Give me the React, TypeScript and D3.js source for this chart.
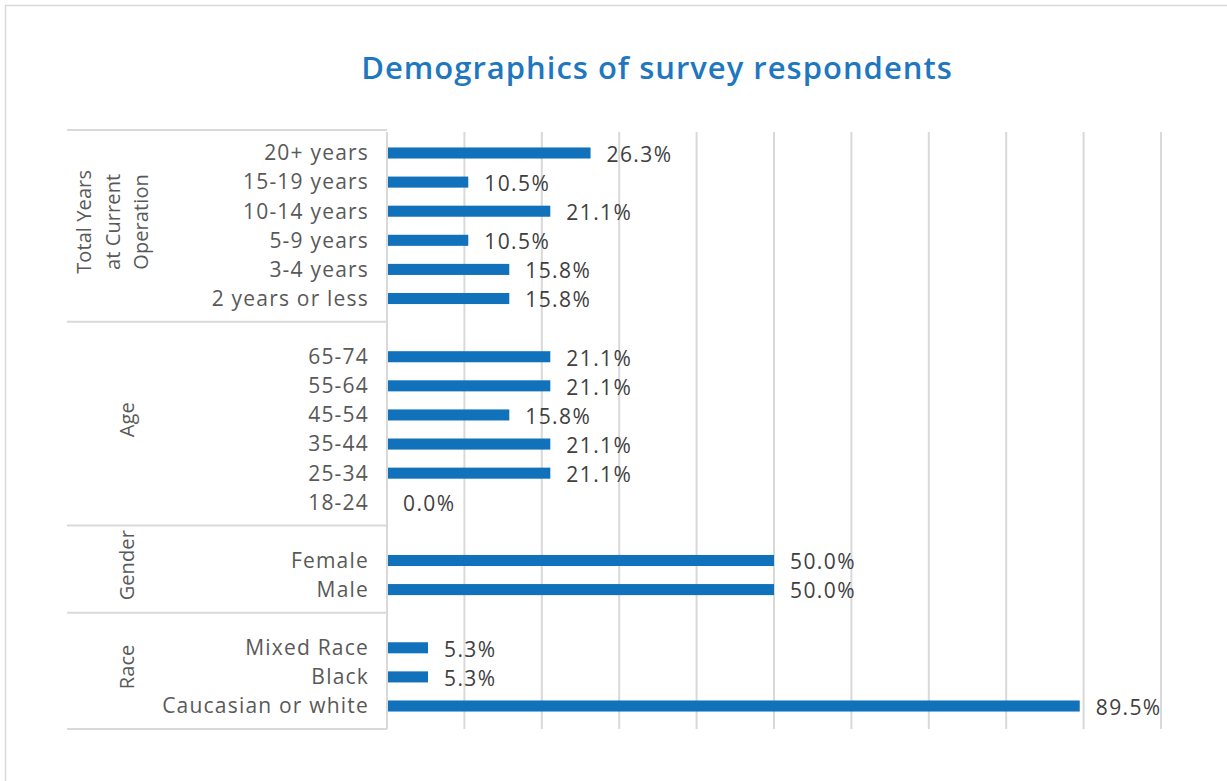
import React from "react";
import { scaleBand, scaleLinear, range } from "d3";

// group titles (rotated) and their rows, top to bottom
const groupNames = [
    ["Total Years", "at Current", "Operation"],
    ["Age"],
    ["Gender"],
    ["Race"],
];

const yearsLabels = ["20+ years", "15-19 years", "10-14 years", "5-9 years", "3-4 years", "2 years or less"];
const yearsValues = [26.3, 10.5, 21.1, 10.5, 15.8, 15.8];

const ageLabels = ["65-74", "55-64", "45-54", "35-44", "25-34", "18-24"];
const ageValues = [21.1, 21.1, 15.8, 21.1, 21.1, 0.0];

const genderLabels = ["Female", "Male"];
const genderValues = [50.0, 50.0];

const raceLabels = ["Mixed Race", "Black", "Caucasian or white"];
const raceValues = [5.3, 5.3, 89.5];

const xTicks = range(0, 101, 10);

const groups = [
    { labels: yearsLabels, values: yearsValues },
    { labels: ageLabels, values: ageValues },
    { labels: genderLabels, values: genderValues },
    { labels: raceLabels, values: raceValues },
];

const W = 1227;
const H = 781;
const margin = { top: 130, left: 387, right: 66, bottom: 52 };
const FONT = "'Open Sans', Lato, sans-serif";

const App: React.FC = () => {
    // domain: every row, with one empty slot between groups
    const domain: string[] = [];
    groups.forEach((g, gi) => {
        if (gi > 0) domain.push("__gap" + gi);
        g.labels.forEach(l => domain.push(l));
    });

    const y = scaleBand<string>()
        .domain(domain)
        .range([margin.top, H - margin.bottom])
        .paddingInner(0.62)
        .paddingOuter(0.6);

    const x = scaleLinear()
        .domain([0, 100])
        .range([margin.left, W - margin.right]);

    const bw = y.bandwidth();
    const step = y.step();
    const mid = (k: string) => (y(k) as number) + bw / 2;

    // separators: top, a bit under the last row of each group, bottom
    const seps = [margin.top];
    groups.forEach((g, gi) => {
        if (gi < groups.length - 1) seps.push(mid(g.labels[g.labels.length - 1]) + step * 0.8);
    });
    seps.push(H - margin.bottom);

    return (
        <svg
            width={W}
            height={H}
            style={{ position: "absolute", left: 0, top: 0, background: "#fff" }}
        >
            {/* outer frame */}
            <line x1={5} x2={W} y1={5.5} y2={5.5} stroke="#d9d9d9" strokeWidth={1.5} />
            <line x1={5.5} x2={5.5} y1={5} y2={H} stroke="#d9d9d9" strokeWidth={1.5} />

            <text
                x={657}
                y={79}
                textAnchor="middle"
                fill="#1f77c0"
                fontFamily={FONT}
                fontWeight={600}
                fontSize={31}
                letterSpacing={1}
            >
                Demographics of survey respondents
            </text>

            {/* vertical gridlines */}
            {xTicks.map(t => (
                <line
                    key={t}
                    x1={x(t)}
                    x2={x(t)}
                    y1={margin.top + 2}
                    y2={H - margin.bottom}
                    stroke="#d9d9d9"
                    strokeWidth={2}
                />
            ))}

            {/* group separators */}
            {seps.map((s, i) => (
                <line
                    key={i}
                    x1={67}
                    x2={x(0)}
                    y1={s}
                    y2={s}
                    stroke="#d9d9d9"
                    strokeWidth={2}
                />
            ))}

            {groups.map((g, gi) => {
                const top = seps[gi];
                const bottom = seps[gi + 1];
                const cy = (top + bottom) / 2 - 4;
                const lines = groupNames[gi];
                const cx = 126 - (lines.length - 1) * 7;
                return (
                    <g key={gi}>
                        {lines.map((ln, li) => (
                            <text
                                key={li}
                                transform={`translate(${cx + (li - (lines.length - 1) / 2) * 28.5},${cy}) rotate(-90)`}
                                textAnchor="middle"
                                dominantBaseline="central"
                                fill="#595959"
                                fontFamily={FONT}
                                fontSize={20}
                                letterSpacing={0.1}
                            >
                                {ln}
                            </text>
                        ))}
                        {g.labels.map((l, i) => (
                            <g key={l}>
                                <text
                                    x={x(0) - 18}
                                    y={mid(l)}
                                    dy="0.35em"
                                    textAnchor="end"
                                    fill="#595959"
                                    fontFamily={FONT}
                                    fontSize={21}
                                    letterSpacing={1.2}
                                >
                                    {l}
                                </text>
                                <rect
                                    x={x(0) + 1}
                                    y={y(l)}
                                    width={Math.max(0, x(g.values[i]) - x(0) - 1)}
                                    height={bw}
                                    fill="#1171ba"
                                />
                                <text
                                    x={x(g.values[i]) + 16}
                                    y={mid(l)}
                                    dy="0.42em"
                                    fill="#404040"
                                    fontFamily={FONT}
                                    fontSize={21}
                                    letterSpacing={1.4}
                                >
                                    {g.values[i].toFixed(1) + "%"}
                                </text>
                            </g>
                        ))}
                    </g>
                );
            })}
        </svg>
    );
};

export default App;
